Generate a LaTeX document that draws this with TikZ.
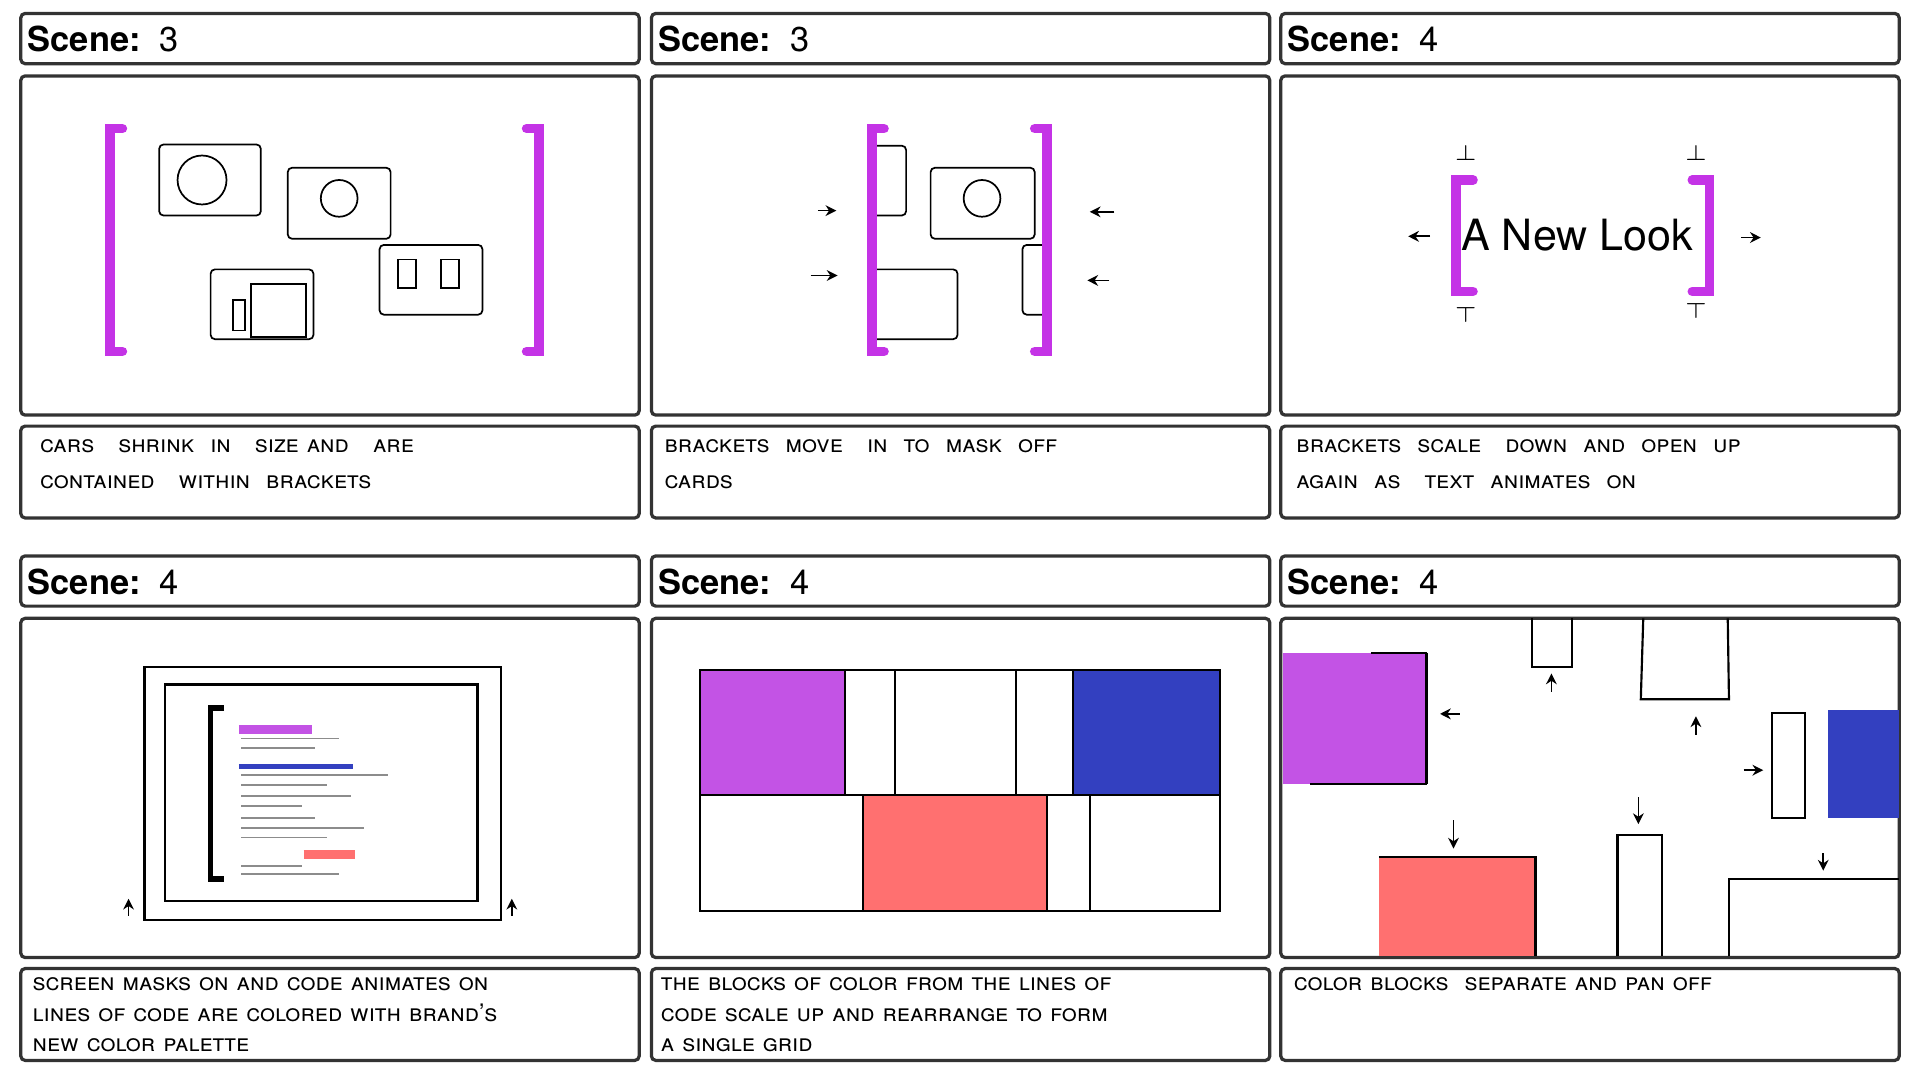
\documentclass[tikz,border=0pt]{standalone}
\usepackage{fontspec}
\setmainfont{TeX Gyre Heros}
\usetikzlibrary{arrows.meta,positioning}
\definecolor{magen}{HTML}{C433E6}
\definecolor{purp}{HTML}{C353E5}
\definecolor{blu}{HTML}{3340C0}
\definecolor{salmon}{HTML}{FF7070}
\tikzset{
  box/.style={draw=black!80,line width=0.75pt,rounded corners=1pt},
  bracket/.style={draw=magen,line width=2.2pt,line cap=round},
  card/.style={draw,line width=0.4pt,rounded corners=1pt},
  blk/.style={draw,line width=0.5pt},
  arr/.style={-{Stealth[length=2.5pt,width=2.5pt]},line width=0.4pt},
  caption/.style={anchor=north west,align=left,font=\fontsize{5.6}{7}\selectfont\scshape,text width=4.85cm,inner sep=0pt},
  title/.style={anchor=west,font=\fontsize{8}{9}\selectfont\bfseries,inner sep=0pt}
}
\begin{document}
\begin{tikzpicture}[x=0.01cm,y=-0.01cm]
\useasboundingbox (0,0) rectangle (1568,882);
% frames
\foreach \x in {17,532,1046}{
  \foreach \y in {0,443}{
    \draw[box] (\x,11+\y) rectangle ++(505,41);
    \draw[box] (\x,62+\y) rectangle ++(505,277);
    \draw[box] (\x,348+\y) rectangle ++(505,75);
  }}
% titles
\node[title] (t1) at (22,32) {Scene:\ \ \normalfont 3};
\node[title] (t2) at (537,32) {Scene:\ \ \normalfont 3};
\node[title] (t3) at (1051,32) {Scene:\ \ \normalfont 4};
\node[title] (t4) at (22,475) {Scene:\ \ \normalfont 4};
\node[title] (t5) at (537,475) {Scene:\ \ \normalfont 4};
\node[title] (t6) at (1051,475) {Scene:\ \ \normalfont 4};
% captions
\node[caption,font=\fontsize{5.6}{8.5}\selectfont\scshape] (c1) at (32,358) {cars\quad shrink\ \ in\ \ \ size and\ \ \ are\\contained\ \ \ within\ \ brackets};
\node[caption,font=\fontsize{5.6}{8.5}\selectfont\scshape] (c2) at (542,358) {brackets\ \ move\ \ \ in\ \ to\ \ mask\ \ off\\cards};
\node[caption,font=\fontsize{5.6}{8.5}\selectfont\scshape] (c3) at (1058,358) {brackets\ \ scale\ \ \ down\ \ and\ \ open\ \ up\\again\ \ as\ \ \ text\ \ animates\ \ on};
\node[caption] (c4) at (26,798) {screen\ masks\ on\ and\ code\ animates\ on\\lines\ of\ code\ are\ colored\ with\ brand's\\new\ color\ palette};
\node[caption] (c5) at (539,798) {the\ blocks\ of\ color\ from\ the\ lines\ of\\code\ scale\ up\ and\ rearrange\ to\ form\\a\ single\ grid};
\node[caption] (c6) at (1056,798) {color\ blocks\ \ separate\ and\ pan\ off};
% panel 1
\draw[bracket] (100,105) -- (90,105) -- (90,287) -- (100,287);
\draw[bracket] (430,105) -- (440,105) -- (440,287) -- (430,287);
\draw[card] (130,118) rectangle (213,176);
\draw[card] (235,137) rectangle (319,195);
\draw[card] (172,220) rectangle (256,277);
\draw[card] (310,200) rectangle (394,257);
\draw (165,147) circle (20);
\draw (277,162) circle (15);
\draw (190,245) rectangle (200,270) (205,232) rectangle (250,275);
\draw (325,212) rectangle (340,235) (360,212) rectangle (375,235);
% panel 2
\draw[card] (712,119) rectangle (740,176);
\draw[card] (760,137) rectangle (845,195);
\draw[card] (712,220) rectangle (782,277);
\draw[card] (835,200) rectangle (855,257);
\draw (802,162) circle (15);
\draw[bracket] (722,105) -- (712,105) -- (712,287) -- (722,287);
\draw[bracket] (845,105) -- (855,105) -- (855,287) -- (845,287);
\draw[arr] (668,172) -- (683,172);
\draw[arr] (662,225) -- (684,225);
\draw[arr] (910,173) -- (890,173);
\draw[arr] (906,229) -- (888,229);
% panel 3
\draw[bracket] (1203,147) -- (1189,147) -- (1189,238) -- (1203,238);
\draw[bracket] (1382,147) -- (1396,147) -- (1396,238) -- (1382,238);
\node[font=\fontsize{10}{11}\selectfont] (txt) at (1288,192) {A New Look};
\node[font=\tiny] (k1) at (1197,125) {$\perp$};
\node[font=\tiny] (k2) at (1385,125) {$\perp$};
\node[font=\tiny] (k3) at (1197,257) {$\top$};
\node[font=\tiny] (k4) at (1385,254) {$\top$};
\draw[arr] (1168,193) -- (1150,193);
\draw[arr] (1422,194) -- (1438,194);
% panel 4
\draw[line width=0.5pt] (118,545) rectangle (409,751);
\draw[line width=0.5pt] (135,559) rectangle (390,736);
\draw[line width=1.3pt] (183,578) -- (172,578) -- (172,718) -- (183,718);
\draw[purp,line width=2pt] (195,596) -- (255,596);
\draw[blu,line width=1.3pt] (195,626) -- (288,626);
\draw[salmon,line width=2pt] (248,698) -- (290,698);
\foreach \y/\l in {603/80,611/60,633/120,641/70,650/90,658/50,668/60,676/100,684/70,707/50,714/80}
  \draw[black!45,line width=0.4pt] (197,\y) -- ++(\l,0);
\draw[arr] (105,748) -- (105,734);
\draw[arr] (418,748) -- (418,734);
% panel 5
\fill[purp] (572,547) rectangle (690,649);
\fill[blu] (876,547) rectangle (996,649);
\fill[salmon] (705,649) rectangle (855,744);
\draw[blk] (572,547) rectangle (996,744);
\draw[blk] (572,649) -- (996,649);
\draw[blk] (690,547) -- (690,649) (731,547) -- (731,649) (830,547) -- (830,649) (876,547) -- (876,649);
\draw[blk] (705,649) -- (705,744) (855,649) -- (855,744) (890,649) -- (890,744);
% panel 6
\fill[purp] (1048,533) rectangle (1165,640);
\draw[blk] (1165,533) -- (1165,640) (1120,533) -- (1165,533) (1070,640) -- (1165,640);
\fill[blu] (1493,580) rectangle (1551,668);
\fill[salmon] (1126,700) rectangle (1254,781);
\draw[blk] (1126,700) -- (1254,700) -- (1254,781);
\draw[blk] (1251,505) -- (1251,545) -- (1284,545) -- (1284,505);
\draw[blk] (1342,505) -- (1340,571) -- (1412,571) -- (1411,505);
\draw[blk] (1447,582) rectangle (1474,668);
\draw[blk] (1321,781) -- (1321,682) -- (1357,682) -- (1357,781);
\draw[blk] (1412,781) -- (1412,718) -- (1551,718);
\draw[arr] (1267,565) -- (1267,550);
\draw[arr] (1385,600) -- (1385,585);
\draw[arr] (1187,670) -- (1187,693);
\draw[arr] (1338,651) -- (1338,673);
\draw[arr] (1489,697) -- (1489,711);
\draw[arr] (1424,629) -- (1440,629);
\draw[arr] (1192,583) -- (1176,583);
\end{tikzpicture}
\end{document}
